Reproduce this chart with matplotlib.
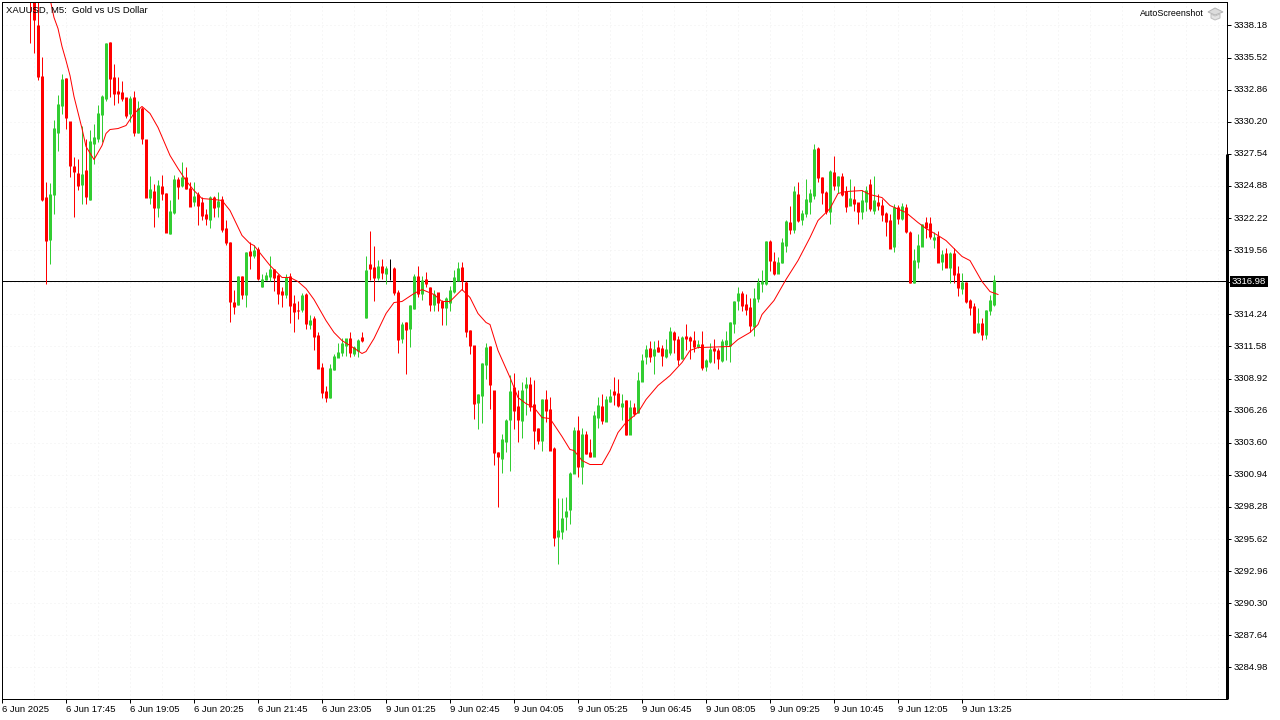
import matplotlib
matplotlib.use("Agg")
import matplotlib.pyplot as plt
from matplotlib.patches import Polygon, Rectangle
from matplotlib.transforms import Affine2D

first_bar = 7  # bars before this are above the visible window

opens = [
    3342.00, 3340.60, 3338.18,
    3333.95, 3323.93, 3320.45, 3324.18, 3329.31, 3331.55, 3333.79, 3330.22, 3326.50, 3325.92,
    3325.00, 3326.16, 3323.76, 3328.40, 3328.82, 3330.80, 3332.13, 3336.77, 3333.87, 3332.71,
    3332.63, 3332.21, 3330.89, 3332.21, 3329.31, 3331.30, 3328.73, 3323.93, 3324.42, 3323.10,
    3324.84, 3324.26, 3320.94, 3322.68, 3325.42, 3324.92, 3325.58, 3324.67, 3323.60, 3324.18,
    3323.51, 3322.52, 3322.10, 3323.93, 3323.18, 3323.76, 3321.36, 3320.20, 3315.23, 3315.06,
    3317.38, 3315.89, 3319.45, 3319.12, 3319.62, 3316.55, 3317.13, 3317.38, 3317.96, 3317.46,
    3316.14, 3315.89, 3317.38, 3315.14, 3314.56, 3314.65, 3315.89, 3313.40, 3313.90, 3312.49,
    3309.84, 3307.85, 3307.35, 3309.67, 3310.67, 3311.08, 3311.66, 3312.24, 3311.00, 3311.25,
    3312.33, 3313.98, 3318.37, 3318.13, 3317.30, 3318.21, 3317.63, 3318.02, 3318.04, 3316.05,
    3312.24, 3313.57, 3313.07, 3314.73, 3317.38, 3315.97, 3317.13, 3316.47, 3315.06, 3316.05,
    3315.31, 3314.81, 3315.23, 3316.14, 3317.05, 3318.13, 3316.88, 3312.91, 3311.66, 3306.94,
    3307.52, 3310.09, 3311.58, 3307.93, 3302.80, 3302.30, 3303.71, 3305.53, 3308.19, 3306.61,
    3305.45, 3308.19, 3308.43, 3306.78, 3304.79, 3303.79, 3307.19, 3306.36, 3303.13, 3295.84,
    3296.25, 3297.50, 3298.08, 3301.06, 3304.62, 3301.64, 3304.29, 3302.80, 3302.47, 3305.70,
    3306.61, 3305.37, 3307.03, 3307.85, 3307.69, 3306.61, 3307.11, 3304.29, 3306.53, 3306.11,
    3308.68, 3310.75, 3311.42, 3310.84, 3311.50, 3311.42, 3310.75, 3311.09, 3312.74, 3312.16,
    3310.59, 3312.41, 3312.33, 3312.08, 3311.58, 3311.75, 3309.93, 3310.34, 3311.42, 3311.25,
    3310.42, 3311.75, 3311.67, 3313.49, 3315.39, 3315.97, 3315.06, 3314.81, 3313.24, 3315.56,
    3316.80, 3316.80, 3320.28, 3318.63, 3317.63, 3318.54, 3319.95, 3321.86, 3321.28, 3324.18,
    3322.11, 3322.60, 3323.60, 3324.09, 3327.99, 3325.59, 3324.34, 3322.77, 3326.00, 3324.92,
    3325.67, 3324.43, 3323.27, 3323.76, 3323.51, 3322.77, 3323.60, 3325.01, 3322.85, 3323.51,
    3323.27, 3322.60, 3322.02, 3319.87, 3323.10, 3322.19, 3323.10, 3321.03, 3316.89, 3318.63,
    3319.87, 3321.86, 3321.77, 3320.45, 3320.70, 3318.63, 3319.29, 3318.13, 3319.29, 3317.63,
    3316.39, 3316.89, 3315.39, 3314.90, 3312.83, 3313.49, 3312.58, 3314.57, 3315.06,
]
highs = [
    3343.00, 3341.00, 3340.50,
    3335.55, 3325.25, 3325.11, 3330.31, 3332.38, 3334.17, 3333.79, 3330.22, 3327.32, 3327.13,
    3329.81, 3328.79, 3329.48, 3330.03, 3331.63, 3332.46, 3336.69, 3336.77, 3334.95, 3333.95,
    3333.62, 3332.21, 3332.30, 3332.71, 3331.96, 3331.41, 3328.73, 3325.67, 3325.06, 3325.34,
    3325.75, 3324.26, 3323.68, 3325.83, 3325.61, 3326.83, 3326.44, 3325.20, 3325.25, 3324.37,
    3323.95, 3322.99, 3324.09, 3324.09, 3324.42, 3324.09, 3322.10, 3320.20, 3316.22, 3317.46,
    3317.38, 3319.37, 3320.20, 3320.00, 3319.81, 3317.60, 3317.79, 3319.04, 3317.96, 3317.55,
    3316.47, 3317.55, 3317.71, 3315.81, 3315.39, 3316.05, 3316.00, 3314.23, 3314.07, 3312.82,
    3310.17, 3308.27, 3310.09, 3310.92, 3311.91, 3312.30, 3312.24, 3312.74, 3311.66, 3312.16,
    3312.82, 3319.04, 3321.19, 3319.87, 3318.71, 3318.79, 3318.21, 3318.79, 3318.13, 3316.22,
    3313.65, 3313.57, 3314.98, 3317.55, 3318.21, 3317.38, 3317.79, 3316.47, 3316.30, 3316.05,
    3315.47, 3315.72, 3316.63, 3317.88, 3318.54, 3318.62, 3316.97, 3312.91, 3311.66, 3307.68,
    3310.17, 3311.91, 3311.58, 3307.93, 3302.80, 3304.29, 3305.61, 3309.18, 3309.35, 3307.94,
    3308.60, 3309.01, 3309.01, 3308.77, 3304.79, 3307.19, 3307.94, 3307.36, 3303.21, 3298.99,
    3298.99, 3299.07, 3301.14, 3304.87, 3305.78, 3304.79, 3304.54, 3303.88, 3306.20, 3307.36,
    3307.61, 3307.44, 3308.02, 3309.01, 3308.85, 3307.61, 3307.11, 3307.11, 3306.86, 3309.43,
    3310.92, 3311.67, 3312.00, 3312.00, 3312.08, 3311.67, 3312.16, 3313.16, 3312.83, 3312.41,
    3312.49, 3313.41, 3312.49, 3312.83, 3312.08, 3312.83, 3310.51, 3311.91, 3312.16, 3311.42,
    3312.16, 3312.83, 3313.57, 3315.39, 3316.55, 3316.14, 3315.89, 3315.56, 3316.39, 3317.22,
    3317.88, 3320.28, 3320.37, 3319.45, 3318.96, 3320.53, 3322.02, 3323.18, 3324.84, 3325.17,
    3322.85, 3325.42, 3324.59, 3328.40, 3328.07, 3325.59, 3324.43, 3326.17, 3327.33, 3325.67,
    3325.92, 3324.84, 3325.50, 3324.84, 3323.51, 3324.51, 3324.84, 3325.42, 3325.67, 3324.18,
    3323.76, 3322.69, 3322.52, 3323.35, 3323.27, 3323.43, 3323.35, 3321.11, 3319.62, 3320.86,
    3321.77, 3322.35, 3322.35, 3321.03, 3321.11, 3319.54, 3319.70, 3319.37, 3319.70, 3318.29,
    3317.63, 3316.89, 3315.48, 3315.15, 3314.81, 3313.90, 3314.57, 3315.81, 3317.47,
]
lows = [
    3336.69, 3335.86, 3333.70,
    3323.60, 3316.77, 3318.43, 3322.57, 3327.82, 3330.86, 3329.64, 3325.61, 3322.35, 3324.51,
    3323.40, 3323.35, 3323.68, 3326.72, 3328.51, 3328.51, 3331.96, 3332.24, 3331.63, 3331.72,
    3331.96, 3330.53, 3330.17, 3329.06, 3329.31, 3328.37, 3323.93, 3323.35, 3321.44, 3322.35,
    3323.68, 3321.03, 3320.94, 3322.57, 3323.82, 3324.78, 3324.64, 3323.18, 3323.18, 3321.61,
    3322.02, 3321.61, 3321.36, 3322.35, 3322.30, 3321.03, 3319.95, 3313.65, 3314.31, 3314.98,
    3315.53, 3314.89, 3318.02, 3318.93, 3317.05, 3316.47, 3317.13, 3316.97, 3316.14, 3315.14,
    3314.89, 3315.56, 3313.49, 3312.74, 3313.82, 3314.40, 3312.99, 3313.04, 3311.25, 3309.76,
    3307.35, 3307.02, 3307.35, 3309.59, 3310.67, 3310.83, 3310.83, 3310.75, 3310.83, 3310.67,
    3311.99, 3313.98, 3317.05, 3315.31, 3317.05, 3317.21, 3316.72, 3317.13, 3315.81, 3311.00,
    3311.91, 3309.26, 3311.50, 3314.65, 3315.72, 3315.47, 3316.47, 3314.56, 3314.56, 3314.48,
    3313.32, 3313.40, 3314.56, 3316.05, 3317.05, 3316.22, 3312.33, 3310.92, 3305.61, 3304.78,
    3305.20, 3308.85, 3306.44, 3301.72, 3298.32, 3301.06, 3302.80, 3301.23, 3304.71, 3303.63,
    3303.96, 3305.87, 3306.20, 3303.05, 3303.46, 3302.88, 3305.29, 3302.97, 3295.01, 3293.52,
    3295.59, 3296.34, 3296.83, 3301.06, 3300.73, 3300.15, 3302.63, 3302.39, 3302.47, 3304.79,
    3305.12, 3305.37, 3306.94, 3306.69, 3306.53, 3305.45, 3304.21, 3304.29, 3305.78, 3306.03,
    3308.68, 3310.09, 3310.26, 3309.26, 3311.09, 3309.93, 3310.59, 3310.84, 3311.00, 3310.01,
    3310.51, 3311.33, 3310.51, 3311.09, 3311.42, 3309.59, 3309.51, 3310.17, 3310.17, 3309.68,
    3310.26, 3310.42, 3310.26, 3312.66, 3314.57, 3314.48, 3314.15, 3312.74, 3312.41, 3315.23,
    3316.06, 3316.64, 3317.80, 3317.47, 3317.63, 3318.46, 3319.45, 3320.86, 3320.95, 3321.86,
    3321.61, 3322.35, 3322.52, 3323.76, 3325.17, 3323.35, 3322.52, 3321.69, 3324.51, 3324.34,
    3324.01, 3322.69, 3323.27, 3322.77, 3321.77, 3322.11, 3322.77, 3322.77, 3322.52, 3322.85,
    3321.94, 3320.70, 3319.70, 3319.45, 3321.69, 3322.02, 3320.95, 3316.80, 3316.80, 3318.05,
    3319.87, 3320.61, 3320.45, 3319.70, 3318.54, 3317.88, 3318.13, 3316.80, 3316.80, 3315.73,
    3315.97, 3315.15, 3314.15, 3312.66, 3312.66, 3312.08, 3312.24, 3314.15, 3314.90,
]
closes = [
    3340.60, 3338.68, 3333.95,
    3323.73, 3320.36, 3324.18, 3329.64, 3331.63, 3333.70, 3330.56, 3326.58, 3326.08, 3324.92,
    3325.83, 3324.01, 3328.57, 3328.90, 3330.89, 3332.30, 3336.69, 3333.79, 3332.54, 3332.54,
    3332.13, 3330.72, 3332.13, 3329.31, 3331.30, 3328.82, 3323.93, 3324.59, 3323.10, 3324.92,
    3324.26, 3321.03, 3322.77, 3325.42, 3324.84, 3325.58, 3324.67, 3323.18, 3324.01, 3323.26,
    3322.44, 3322.19, 3323.93, 3323.10, 3323.60, 3321.28, 3320.20, 3315.31, 3314.89, 3317.38,
    3315.89, 3319.37, 3319.12, 3319.53, 3317.22, 3317.13, 3317.46, 3317.96, 3317.30, 3315.97,
    3315.89, 3317.30, 3314.98, 3314.48, 3314.50, 3315.81, 3313.49, 3313.73, 3312.41, 3309.76,
    3307.77, 3307.35, 3309.76, 3310.75, 3311.08, 3311.83, 3312.24, 3311.08, 3311.50, 3312.08,
    3312.08, 3317.93, 3318.04, 3317.30, 3318.21, 3317.71, 3318.04, 3318.02, 3316.05, 3312.16,
    3313.40, 3312.99, 3314.98, 3317.38, 3315.97, 3317.05, 3316.80, 3315.06, 3315.89, 3315.23,
    3314.81, 3315.56, 3316.22, 3317.30, 3318.04, 3317.05, 3312.82, 3311.66, 3306.86, 3307.60,
    3310.17, 3311.50, 3308.43, 3302.80, 3302.47, 3303.87, 3305.45, 3307.85, 3306.28, 3305.53,
    3307.94, 3308.43, 3306.61, 3304.62, 3303.79, 3307.19, 3306.28, 3302.97, 3295.76, 3296.34,
    3297.33, 3297.91, 3301.06, 3304.62, 3301.64, 3304.29, 3302.72, 3302.47, 3305.87, 3306.69,
    3305.45, 3307.19, 3307.44, 3307.61, 3306.69, 3306.86, 3304.29, 3306.53, 3306.03, 3308.77,
    3310.42, 3311.33, 3310.75, 3311.33, 3311.17, 3310.84, 3311.33, 3312.83, 3312.16, 3310.51,
    3312.33, 3312.25, 3312.08, 3311.58, 3311.75, 3309.84, 3310.42, 3311.33, 3311.25, 3310.59,
    3312.00, 3312.08, 3313.57, 3315.31, 3315.97, 3314.98, 3314.65, 3313.32, 3315.56, 3316.89,
    3316.97, 3320.28, 3318.71, 3317.63, 3318.54, 3320.20, 3321.94, 3321.28, 3324.43, 3322.02,
    3322.60, 3323.76, 3324.26, 3327.91, 3325.59, 3324.34, 3322.77, 3326.08, 3324.92, 3325.67,
    3324.18, 3323.18, 3323.85, 3323.43, 3322.77, 3323.68, 3324.51, 3323.02, 3323.68, 3323.27,
    3322.52, 3321.94, 3319.70, 3323.10, 3322.19, 3323.18, 3321.11, 3316.89, 3318.71, 3319.95,
    3321.69, 3321.44, 3320.70, 3320.61, 3318.54, 3319.21, 3318.13, 3319.29, 3317.55, 3316.47,
    3316.89, 3315.31, 3314.81, 3312.74, 3313.49, 3312.58, 3314.57, 3315.39, 3317.05,
]

# moving average read at every few bars
ma_bars = [
    12, 13, 14, 15, 16, 17, 18, 20, 21, 23, 25, 26, 27, 29, 31, 33, 35, 37, 39, 42,
    44, 46, 48, 50, 53, 55, 57, 60, 62, 63, 65, 67, 70, 72, 74, 76, 78, 81, 83, 85,
    87, 90, 91, 93, 96, 98, 100, 103, 105, 108, 110, 112, 115, 117, 119, 121, 122, 124, 127, 129,
    131, 133, 135, 137, 140, 142, 143, 145, 147, 150, 152, 154, 156, 159, 161, 164, 167, 170, 172, 174,
    182, 184, 187, 189, 190, 193, 196, 199, 202, 204, 206, 207, 209, 211, 215, 217, 220, 222, 226, 229,
    231, 234, 236, 238, 240, 242, 243, 245, 247, 249,
]
ma_values = [
    3340.40, 3338.84, 3337.93, 3336.44, 3335.28, 3334.03, 3332.29, 3329.64, 3328.15, 3327.07,
    3328.23, 3329.23, 3329.56, 3329.64, 3329.89, 3330.89, 3331.47, 3330.89, 3329.73, 3327.41,
    3326.33, 3325.33, 3324.50, 3323.84, 3323.76, 3323.68, 3322.85, 3320.78, 3320.11, 3319.95,
    3319.12, 3318.29, 3317.30, 3317.30, 3316.96, 3316.38, 3315.47, 3313.73, 3312.74, 3312.07,
    3311.66, 3311.00, 3311.16, 3312.24, 3314.31, 3315.22, 3315.31, 3315.97, 3316.30, 3315.89,
    3315.31, 3315.31, 3316.30, 3315.64, 3314.31, 3313.57, 3313.40, 3311.25, 3309.01, 3307.35,
    3306.85, 3306.52, 3305.69, 3305.61, 3304.12, 3303.04, 3302.96, 3302.13, 3301.80, 3301.80,
    3302.96, 3304.45, 3305.28, 3306.11, 3307.18, 3308.35, 3309.17, 3310.25, 3311.25, 3311.49,
    3311.58, 3312.16, 3312.74, 3313.40, 3314.23, 3315.39, 3317.13, 3318.70, 3320.61, 3322.02,
    3322.68, 3323.01, 3324.26, 3324.42, 3324.50, 3324.17, 3323.92, 3323.26, 3322.68, 3321.85,
    3321.36, 3320.78, 3320.36, 3319.70, 3319.04, 3318.70, 3318.12, 3316.96, 3316.13, 3315.89,
]
current_price = 3316.98

y_ticks = [
    3338.18, 3335.52, 3332.86, 3330.20, 3327.54, 3324.88, 3322.22, 3319.56, 3316.90, 3314.24,
    3311.58, 3308.92, 3306.26, 3303.60, 3300.94, 3298.28, 3295.62, 3292.96, 3290.30, 3287.64, 3284.98,
]
x_labels = [
    "6 Jun 2025", "6 Jun 17:45", "6 Jun 19:05", "6 Jun 20:25", "6 Jun 21:45", "6 Jun 23:05",
    "9 Jun 01:25", "9 Jun 02:45", "9 Jun 04:05", "9 Jun 05:25", "9 Jun 06:45", "9 Jun 08:05",
    "9 Jun 09:25", "9 Jun 10:45", "9 Jun 12:05", "9 Jun 13:25",
]

GREEN = "#32CD32"
RED = "#FF0000"
FONT = "Liberation Sans"
PX = 0.72  # one pixel in points at dpi 100

plt.rcParams["font.family"] = FONT
plt.rcParams["font.size"] = 6.8

fig = plt.figure(figsize=(12.8, 7.2), dpi=100, facecolor="white")
# axes box in pixels, 4 px per bar
ax = fig.add_axes([2.0 / 1280, 1 - 699.0 / 720, 1225 / 1280, 697 / 720])
ax.set_xlim(0, 1225 / 4)
y_top = 3340.086 + 0.04
y_bottom = y_top - 697 * 0.082866
ax.set_ylim(y_bottom, y_top)
ax.patch.set_alpha(0)

# very faint dotted grid
ax.vlines(range(0, 306, 8), y_bottom, y_top, colors="#f1f1f1", lw=PX,
          linestyles=(0, (1, 3)), zorder=0)
ax.hlines(y_ticks, 0, 306.25, colors="#f1f1f1", lw=PX, linestyles=(0, (1, 3)), zorder=0)

price_line = ax.axhline(current_price, color="black", lw=PX, zorder=1)
price_line.set_snap(True)

# candles
bars = list(range(first_bar, first_bar + len(opens)))
colors = []
for o, c in zip(opens, closes):
    colors.append(GREEN if c > o else RED if c < o else "black")
wicks = ax.vlines(bars, lows, highs, colors=colors, lw=PX, zorder=2)
wicks.set_snap(True)
tops = [max(o, c) + 0.02 for o, c in zip(opens, closes)]
bottoms = [min(o, c) - 0.02 for o, c in zip(opens, closes)]
bodies = ax.vlines(bars, bottoms, tops, colors=colors, lw=3 * PX, zorder=3)
bodies.set_snap(True)
bodies.set_capstyle("butt")

ax.plot(ma_bars, ma_values, color=RED, lw=0.72, zorder=4)

# frame
for side in ["top", "left", "bottom", "right"]:
    ax.spines[side].set_linewidth(PX)
    ax.spines[side].set_color("black")
    ax.spines[side].set_zorder(6)
ax.vlines(1225 / 4, y_bottom, 3327.54, colors="black", lw=3 * PX, zorder=6, clip_on=False)

ax.yaxis.tick_right()
ax.set_yticks(y_ticks)
ax.set_yticklabels([f"{t:.2f}" if t != 3316.90 else "" for t in y_ticks], va="center")
ax.tick_params(axis="y", length=3, width=PX, pad=1.5, color="black", labelsize=6.8)
ax.set_xticks([i * 16 for i in range(len(x_labels))])
ax.set_xticklabels(x_labels, ha="left")
ax.tick_params(axis="x", length=3, width=PX, pad=1, color="black", labelsize=6.8)

pixels = Affine2D().scale(1, -1).translate(0, 720)

# current price tag
fig.add_artist(Rectangle((1230, 276), 38, 11, fc="black", ec="none", transform=pixels, zorder=7))
fig.text(1232 / 1280, 1 - 281.5 / 720, f"{current_price:.2f}", color="white", fontsize=6.8,
         va="center", ha="left", zorder=8)

fig.text(6 / 1280, 1 - 10 / 720, "XAUUSD, M5:  Gold vs US Dollar", fontsize=6.8, va="center",
         ha="left", zorder=0)
fig.text(1204 / 1280, 1 - 14 / 720, "AutoScreenshot", fontsize=6.4, va="center", ha="right")

# little mortarboard icon next to the watermark
cap = Polygon([(1208, 12), (1215, 8), (1223, 12), (1215, 15)], closed=True, fc="#dcdcdc",
              ec="#b5b5b5", lw=PX, transform=pixels)
base = Polygon([(1211, 14), (1215, 16), (1220, 14), (1220, 18), (1215, 20), (1211, 18)],
               closed=True, fc="#e4e4e4", ec="#c0c0c0", lw=PX, transform=pixels)
fig.add_artist(cap)
fig.add_artist(base)

fig.savefig("out.png", dpi=100)
